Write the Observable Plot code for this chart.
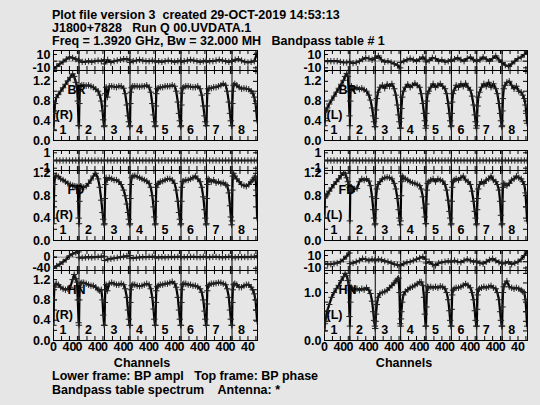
<!DOCTYPE html>
<html><head><meta charset="utf-8">
<script src="https://cdn.jsdelivr.net/npm/d3@7"></script>
<script src="https://cdn.jsdelivr.net/npm/@observablehq/plot@0.6"></script>
<style>
html,body{margin:0;padding:0;background:#e6e6e6;}
#c{position:relative;width:540px;height:405px;background:#e6e6e6;overflow:hidden;
 font-family:'Liberation Sans',Arial,Helvetica,sans-serif;font-weight:bold;font-size:12.5px;color:#000;}
.t{position:absolute;white-space:pre;line-height:13px;}
</style></head>
<body><div id="c"></div>
<script>
// ---------- data ----------
const ifLabels = ["1","2","3","4","5","6","7","8"];
const ifStarts = [0,64,128,192,256,320,384,448];
const ampChannels = [0,1,2,4,7,12,18,24,30,36,42,48,52,56,59,61,63];
const phaseChannels = [0,8,16,24,32,40,48,56,63];
const xTickChannels = [0,20,40,60];
const xLabelChannels = [0,40];
const ampMinorTicks = [0.2,0.4,0.6,0.8,1.0,1.2,1.4];

const titleLines = ["Plot file version 3  created 29-OCT-2019 14:53:13",
  "J1800+7828   Run Q 00.UVDATA.1",
  "Freq = 1.3920 GHz, Bw = 32.000 MH   Bandpass table # 1"];
const footerLines = ["Lower frame: BP ampl   Top frame: BP phase",
  "Bandpass table spectrum    Antenna: *"];
const xTitle = "Channels";

// BP amplitude, antenna BR, pol R (8 IFs)
const ampBR_R = [
 [0.22,0.4,0.55,0.75,0.87,0.93,1.0,1.07,1.14,1.21,1.28,1.35,1.3,1.18,1.1,0.8,0.3],
 [0.3,0.75,1.0,1.1,1.12,1.12,1.11,1.12,1.1,1.08,1.04,1.0,0.92,0.8,0.6,0.42,0.28],
 [0.3,0.7,0.95,1.08,0.88,1.1,1.1,1.09,1.08,1.1,1.1,1.06,0.95,0.72,0.5,0.38,0.28],
 [0.3,0.75,0.98,1.07,1.1,1.1,1.1,1.09,1.1,1.1,1.12,1.08,0.98,0.75,0.52,0.38,0.28],
 [0.3,0.7,0.95,1.05,1.06,1.08,1.08,1.1,1.1,1.1,1.12,1.1,1.0,0.78,0.55,0.4,0.28],
 [0.3,0.72,0.96,1.06,1.08,1.1,1.1,1.09,1.08,1.08,1.1,1.05,0.92,0.7,0.5,0.38,0.3],
 [0.3,0.7,0.95,1.05,1.06,1.06,1.08,1.08,1.1,1.12,1.15,1.12,1.0,0.78,0.55,0.4,0.3],
 [0.3,0.75,1.0,1.12,1.15,1.12,1.08,1.05,1.06,1.05,1.04,1.0,0.96,0.88,0.75,0.6,0.4]];
// BP amplitude, antenna BR, pol L
const ampBR_L = [
 [0.3,0.45,0.58,0.62,0.66,0.74,0.82,0.9,0.98,1.06,1.14,1.22,1.3,1.36,1.3,1.0,0.5],
 [0.3,0.8,1.05,1.1,1.06,1.05,1.07,1.04,1.06,1.03,1.0,0.92,0.82,0.66,0.5,0.38,0.28],
 [0.28,0.45,0.62,0.85,0.98,1.08,1.12,1.06,1.14,1.1,1.15,1.05,0.92,0.72,0.52,0.38,0.25],
 [0.25,0.45,0.65,0.88,1.0,1.08,1.14,1.08,1.12,1.16,1.12,1.08,0.95,0.75,0.55,0.4,0.25],
 [0.3,0.55,0.8,0.95,1.0,1.08,1.15,1.08,1.12,1.15,1.1,1.05,0.95,0.75,0.55,0.4,0.28],
 [0.3,0.55,0.78,0.95,1.02,1.12,1.08,1.15,1.1,1.16,1.08,1.02,0.9,0.72,0.52,0.38,0.25],
 [0.3,0.5,0.7,0.88,0.98,1.08,1.15,1.1,1.18,1.08,1.15,1.05,0.95,0.75,0.55,0.4,0.28],
 [0.3,0.6,0.85,1.05,1.12,1.18,1.2,1.12,1.05,1.1,1.0,0.98,0.92,0.85,0.72,0.55,0.35]];
// BP amplitude, antenna FD, pol R
const ampFD_R = [
 [0.3,0.7,1.0,1.15,1.16,1.14,1.1,1.08,1.05,1.02,1.0,0.98,0.97,0.96,0.96,0.95,0.4],
 [0.3,0.7,0.95,0.97,0.96,0.95,0.97,1.02,1.08,1.15,1.2,1.1,0.95,0.72,0.5,0.38,0.28],
 [0.3,0.75,1.0,1.12,1.08,1.12,1.1,1.08,1.08,1.05,1.0,0.9,0.8,0.65,0.5,0.38,0.28],
 [0.3,0.75,1.0,1.12,1.15,1.16,1.14,1.12,1.1,1.08,1.06,1.02,0.95,0.8,0.6,0.42,0.28],
 [0.3,0.7,0.95,1.0,1.02,1.05,1.06,1.08,1.1,1.1,1.08,1.02,0.9,0.7,0.5,0.38,0.28],
 [0.3,0.7,0.95,1.05,1.06,1.08,1.08,1.1,1.12,1.15,1.1,1.05,0.95,0.78,0.55,0.4,0.28],
 [0.3,0.75,1.0,1.1,1.08,1.05,1.08,1.03,1.05,1.02,1.03,1.0,0.98,0.85,0.62,0.42,0.28],
 [0.35,0.9,1.15,1.2,1.15,1.1,1.05,1.0,0.98,0.97,1.0,1.05,1.08,1.12,1.15,0.9,0.4]];
// BP amplitude, antenna FD, pol L
const ampFD_L = [
 [0.4,0.76,0.78,0.8,0.83,0.88,0.94,1.0,1.05,1.1,1.16,1.21,1.2,1.12,1.05,1.0,0.95],
 [0.35,0.9,0.92,0.92,0.92,0.92,0.93,1.05,1.1,1.08,1.1,1.06,0.98,0.78,0.55,0.4,0.28],
 [0.3,0.55,0.75,0.92,1.0,1.05,1.1,1.12,1.13,1.12,1.1,1.02,0.92,0.75,0.55,0.4,0.28],
 [0.35,0.8,1.05,1.15,1.12,1.1,1.08,1.05,1.03,1.02,1.0,0.98,0.92,0.78,0.58,0.42,0.3],
 [0.3,0.65,0.9,1.02,1.05,1.08,1.1,1.05,1.1,1.08,1.06,1.0,0.9,0.72,0.52,0.4,0.28],
 [0.3,0.7,0.95,1.05,1.08,1.1,1.08,1.12,1.15,1.08,1.05,1.0,0.88,0.7,0.52,0.4,0.28],
 [0.3,0.55,0.75,0.92,1.0,1.05,1.02,1.08,1.1,1.15,1.08,1.05,1.0,0.9,0.7,0.45,0.28],
 [0.3,0.7,0.95,1.02,1.0,0.98,1.02,1.08,1.1,1.15,1.12,1.1,1.05,1.0,0.85,0.6,0.35]];
// BP amplitude, antenna HN, pol R
const ampHN_R = [
 [0.3,0.8,1.05,1.1,1.12,1.1,1.05,1.02,1.0,1.02,1.05,1.2,1.3,1.22,1.15,0.8,0.35],
 [0.3,0.8,1.05,1.12,1.14,1.14,1.12,1.1,1.08,1.08,1.05,1.0,0.98,1.0,0.8,0.5,0.3],
 [0.3,0.75,1.0,1.1,0.98,1.12,1.14,1.12,1.1,1.1,1.12,1.1,1.02,0.85,0.6,0.42,0.3],
 [0.3,0.75,1.0,1.08,1.1,1.1,1.08,1.07,1.08,1.1,1.12,1.1,1.02,0.85,0.62,0.42,0.3],
 [0.3,0.75,0.98,1.06,1.08,1.1,1.1,1.12,1.12,1.14,1.16,1.12,1.05,0.85,0.6,0.42,0.3],
 [0.3,0.75,1.0,1.1,1.12,1.12,1.1,1.1,1.08,1.08,1.06,1.02,0.95,0.8,0.58,0.42,0.3],
 [0.3,0.72,0.98,1.08,1.1,1.12,1.12,1.13,1.14,1.14,1.12,1.1,1.02,0.85,0.6,0.42,0.3],
 [0.3,0.75,1.0,1.1,1.12,1.1,1.05,1.05,1.08,1.1,1.1,1.05,1.0,0.92,0.8,0.6,0.38]];
// BP amplitude, antenna HN, pol L
const ampHN_L = [
 [0.2,0.35,0.4,0.5,0.62,0.75,0.9,1.0,1.08,1.15,1.25,1.33,1.4,1.35,1.25,1.15,0.5],
 [0.3,0.8,1.05,1.1,1.08,1.06,1.08,1.05,1.08,1.06,1.1,1.05,0.98,0.82,0.6,0.42,0.3],
 [0.25,0.4,0.55,0.75,0.9,0.98,1.0,1.02,1.05,1.1,1.15,1.2,1.24,1.28,1.3,1.0,0.35],
 [0.3,0.45,0.6,0.8,0.95,1.02,1.06,1.1,1.12,1.15,1.18,1.22,1.22,1.15,0.9,0.55,0.3],
 [0.3,0.7,1.0,1.12,1.1,1.12,1.1,1.12,1.1,1.13,1.12,1.08,1.0,0.85,0.62,0.42,0.3],
 [0.3,0.65,0.95,1.05,1.08,1.1,1.1,1.12,1.15,1.18,1.15,1.1,1.0,0.85,0.62,0.42,0.3],
 [0.3,0.65,0.95,1.06,1.08,1.1,1.12,1.1,1.12,1.14,1.1,1.08,1.0,0.85,0.6,0.42,0.3],
 [0.3,0.7,1.0,1.12,1.18,1.24,1.12,1.1,1.08,1.1,1.08,1.05,1.02,1.0,0.85,0.6,0.3]];

// BP phase (degrees)
const phaseBR_R = [
 [-12,-8,-4,-1,3,6,5,3,2],[0,-1,-1,0,-1,0,1,0,2],[-4,2,-2,0,1,2,3,3,2],[-2,0,1,2,1,0,0,1,0],
 [-1,0,-1,0,1,0,-1,0,1],[-1,0,1,2,1,0,-1,0,1],[-1,0,0,1,2,1,0,-1,0],[0,2,3,1,-1,-2,-1,0,12]];
const phaseBR_L = [
 [0,0,0,0,0,-1,-2,-2,-1],[-2,-3,-2,0,3,5,4,2,4],[5,8,2,-1,0,-2,-4,-6,-10],[-2,0,2,4,2,0,3,6,2],
 [-1,1,5,4,0,2,-1,0,2],[0,3,5,2,0,4,6,2,0],[0,2,6,3,0,4,8,2,-2],[-2,-6,-8,-4,0,4,6,10,14]];
const phaseFD_R = [
 [0,0,0,0,0,0,0,0,0],[0,0,0,0,0,0,0,0,0],[0,0,0,0,0,0,0,0,0],[0,0,0,0,0,0,0,0,0],
 [0,0,0,0,0,0,0,0,0],[0,0,0,0,0,0,0,0,0],[0,0,0,0,0,0,0,0,0],[0,0,0,0,0,0,0,0,0]];
const phaseFD_L = [
 [0,0,0,0,0,0,0,0,0],[0,0,0,0,0,0,0,0,0],[0,0,0,0,0,0,0,0,0],[0,0,0,0,0,0,0,0,0],
 [0,0,0,0,0,0,0,0,0],[0,0,0,0,0,0,0,0,0],[0,0,0,0,0,0,0,0,0],[0,0,0,0,0,0,0,0,0]];
const phaseHN_R = [
 [-38,-32,-25,-17,-8,5,12,17,19],[-2,-2,-1,0,-1,0,1,2,3],[-12,-8,-6,-4,-2,0,2,4,6],[-4,-3,-2,-1,0,0,1,1,2],
 [-2,-1,0,-1,0,1,0,1,2],[-1,0,0,1,1,0,0,1,1],[-1,0,1,1,0,-1,0,1,2],[-1,-1,0,0,1,0,1,2,4]];
const phaseHN_L = [
 [-3,-4,-4,-3,-2,0,4,9,14],[-3,-2,0,2,5,4,2,4,2],[2,4,3,1,0,-2,-4,-5,-6],[-6,-3,-1,0,2,4,6,8,4],
 [-2,0,-4,-6,-2,-1,0,1,0],[0,2,0,-1,2,4,2,0,1],[0,-2,-3,0,3,5,2,-1,-2],[-3,-2,0,-4,-2,0,4,10,16]];

const panels = [
 {ant:"BR", pol:"(R)", amp:ampBR_R, phase:phaseBR_R, col:0, row:0, ampMax:1.42, ampLabels:[0,0.4,0.8,1.2], phDomain:[-14,16], phLabels:[10,-10]},
 {ant:"BR", pol:"(L)", amp:ampBR_L, phase:phaseBR_L, col:1, row:0, ampMax:1.42, ampLabels:[0,0.4,0.8,1.2], phDomain:[-14,16], phLabels:[10,-10]},
 {ant:"FD", pol:"(R)", amp:ampFD_R, phase:phaseFD_R, col:0, row:1, ampMax:1.25, ampLabels:[0,0.4,0.8,1.2], phDomain:[-1.3,1.3], phLabels:[1,-1]},
 {ant:"FD", pol:"(L)", amp:ampFD_L, phase:phaseFD_L, col:1, row:1, ampMax:1.25, ampLabels:[0,0.4,0.8,1.2], phDomain:[-1.3,1.3], phLabels:[1,-1]},
 {ant:"HN", pol:"(R)", amp:ampHN_R, phase:phaseHN_R, col:0, row:2, ampMax:1.38, ampLabels:[0,0.4,0.8,1.2], phDomain:[-48,24], phLabels:[0,-40]},
 {ant:"HN", pol:"(L)", amp:ampHN_L, phase:phaseHN_L, col:1, row:2, ampMax:1.46, ampLabels:[0,1.0], phDomain:[-14,18], phLabels:[10,-10]}
];

// ---------- drawing ----------
const container = document.getElementById("c");
const colX = [53, 324], colW = [204, 203];
const rowTop = [50, 150, 250];
const phaseH = 20, ampH = 70;
const xDomain = [0, 512];
const FONTSTYLE = "background:transparent;overflow:visible;font-family:'Liberation Sans',Arial,Helvetica,sans-serif;font-size:12.5px;font-weight:bold;color:#000;";

function toRows(values, channels) {
  return values.flatMap((arr, k) => arr.map((v, j) => ({ifn: k, x: ifStarts[k] + channels[j], v})));
}
const xTicks = ifStarts.flatMap(s => xTickChannels.map(c => s + c)).filter(v => v > 0);
const xLabels = ifStarts.flatMap(s => xLabelChannels.map(c => s + c));

function drawFrame(o) {
  const mL = 46, mR = 8, mT = 10, mB = o.bottomAxis ? 24 : 10;
  const {w, h} = o;
  const marks = [
    Plot.frame({stroke: "black"}),
    Plot.ruleX(ifStarts.slice(1), {stroke: "black", strokeWidth: 1}),
  ];
  if (o.zeroLine) marks.push(Plot.ruleY([0], {stroke: "#8a8a8a"}));
  marks.push(
    Plot.tickX(xTicks, {x: d => d, insetBottom: h - 4, stroke: "black"}),
    Plot.tickX(xTicks, {x: d => d, insetTop: h - 4, stroke: "black"}),
    Plot.tickY(o.yTicks, {y: d => d, insetRight: w - 4, stroke: "black"}),
    Plot.tickY(o.yTicks, {y: d => d, insetLeft: w - 4, stroke: "black"}),
    Plot.line(o.data, {x: "x", y: "v", z: "ifn", stroke: "black", strokeWidth: 2.2, clip: true}),
    Plot.dot(o.data, {x: "x", y: "v", symbol: "plus", r: 2.2, stroke: "#222", strokeWidth: 1, clip: true})
  );
  if (o.texts) marks.push(...o.texts);
  marks.push(Plot.axisY({ticks: o.yLabels, tickSize: 0, tickPadding: 3, tickFormat: o.yFormat, label: null}));
  if (o.bottomAxis) {
    marks.push(Plot.axisX({ticks: xLabels, tickSize: 0, tickPadding: 2, tickFormat: d => String(d % 64), label: null}));
  }
  const svg = Plot.plot({
    width: w + mL + mR, height: h + mT + mB,
    marginLeft: mL, marginRight: mR, marginTop: mT, marginBottom: mB,
    x: o.bottomAxis ? {domain: xDomain} : {domain: xDomain, axis: null},
    y: {domain: o.yDomain},
    style: FONTSTYLE,
    marks
  });
  svg.style.position = "absolute";
  svg.style.left = (o.x0 - mL) + "px";
  svg.style.top = (o.y0 - mT) + "px";
  container.appendChild(svg);
}

for (const p of panels) {
  const x0 = colX[p.col], w = colW[p.col], y0 = rowTop[p.row];
  // phase (top) frame
  drawFrame({
    x0, y0, w, h: phaseH,
    yDomain: p.phDomain, yLabels: p.phLabels, yTicks: [0, ...p.phLabels],
    yFormat: d => String(d), zeroLine: true,
    data: toRows(p.phase, phaseChannels)
  });
  // amplitude (lower) frame
  drawFrame({
    x0, y0: y0 + phaseH, w, h: ampH,
    yDomain: [0, p.ampMax], yLabels: p.ampLabels, yTicks: ampMinorTicks.filter(t => t < p.ampMax),
    yFormat: d3.format(".1f"), zeroLine: false,
    bottomAxis: p.row === 2,
    data: toRows(p.amp, ampChannels),
    texts: [
      Plot.text(ifLabels, {x: (d, i) => ifStarts[i], text: d => d, frameAnchor: "top", dy: 55, dx: 6, textAnchor: "start"}),
      Plot.text([p.ant], {text: d => d, frameAnchor: "top-left", dx: 14, dy: 15, textAnchor: "start"}),
      Plot.text([p.pol], {text: d => d, frameAnchor: "top-left", dx: 2, dy: 40, textAnchor: "start"})
    ]
  });
}

// titles and captions
function addText(str, left, top, center) {
  const d = document.createElement("div");
  d.className = "t";
  d.textContent = str;
  d.style.top = top + "px";
  d.style.left = left + "px";
  if (center) d.style.transform = "translateX(-50%)";
  container.appendChild(d);
}
titleLines.forEach((s, i) => addText(s, 52, [8.5, 22, 35.3][i]));
addText(xTitle, 142, 356.5, true);
addText(xTitle, 404, 356.5, true);
footerLines.forEach((s, i) => addText(s, 52, [370.3, 383.7][i]));
</script>
</body></html>
